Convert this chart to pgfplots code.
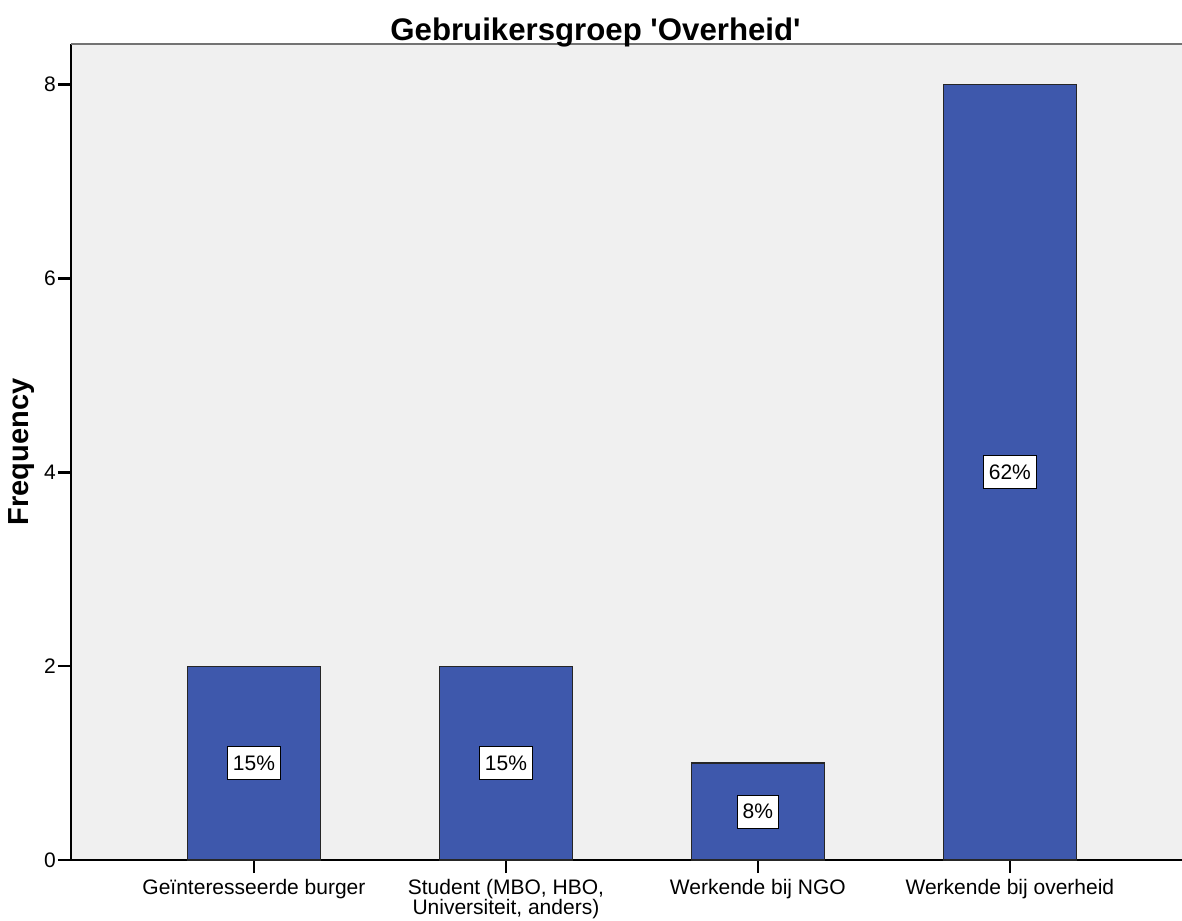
\documentclass[border=0pt]{standalone}
\usepackage{pgfplots}
\pgfplotsset{compat=1.18}
\usepackage{fontspec}
\setmainfont{Liberation Sans}
\newfontfamily\plainsans{Liberation Sans}[Ligatures=ResetAll]
\definecolor{barblue}{RGB}{62,88,172}
\definecolor{bggray}{RGB}{240,240,240}
\begin{document}
\begin{tikzpicture}
\begin{axis}[
  scale only axis,
  width=1111pt, height=816pt,
  at={(0,0)}, anchor=south west,
  xmin=-0.726, xmax=3.683,
  ymin=0, ymax=8.42,
  axis x line*=bottom, axis y line*=left,
  axis line style={black, line width=1.3pt},
  axis background/.style={fill=bggray},
  ytick={0,2,4,6,8},
  xtick={0,1,2,3},
  xticklabels={Geïnteresseerde burger,{Student (MBO, HBO,\\Universiteit, anders)},Werkende bij NGO,Werkende bij overheid},
  tick align=outside,
  major tick length=13pt,
  tick style={black, line width=2.4pt},
  /pgf/number format/assume math mode=true,
  ticklabel style={font=\fontsize{21}{20}\selectfont},
  xticklabel style={align=center, inner sep=2pt, yshift=-4pt},
  yticklabel style={inner sep=2pt},
  ylabel={Frequency},
  ylabel style={font=\fontsize{29}{30}\selectfont\bfseries, at={(axis description cs:-0.0441,0.5)}, anchor=center},
  clip=false,
]
\addplot[ybar, bar width=133pt, fill=barblue, draw=black!85, line width=1.2pt]
  coordinates {(0,2) (1,2) (2,1) (3,8)};
\addplot[draw=none, mark=none, nodes near coords, point meta=explicit symbolic,
  nodes near coords align=center,
  every node near coord/.style={anchor=center, fill=white, draw=black, line width=1pt,
    font=\fontsize{21}{20}\selectfont, text height=15pt, text depth=1pt, inner xsep=5.5pt, inner ysep=8.5pt}]
  coordinates {(0,1) [15\%] (1,1) [15\%] (2,0.5) [8\%] (3,4) [62\%]};
\draw[black!55, line width=1.5pt] (rel axis cs:0,1) -- (rel axis cs:1,1);
\end{axis}
\node[anchor=base, font=\plainsans\fontsize{31.2}{31}\selectfont\bfseries, inner sep=0pt] at (524.5pt,819pt) {Gebruikersgroep 'Overheid'};
\pgfresetboundingbox
\path[use as bounding box] (-71pt,-60pt) rectangle (1111pt,860pt);
\end{tikzpicture}
\end{document}
